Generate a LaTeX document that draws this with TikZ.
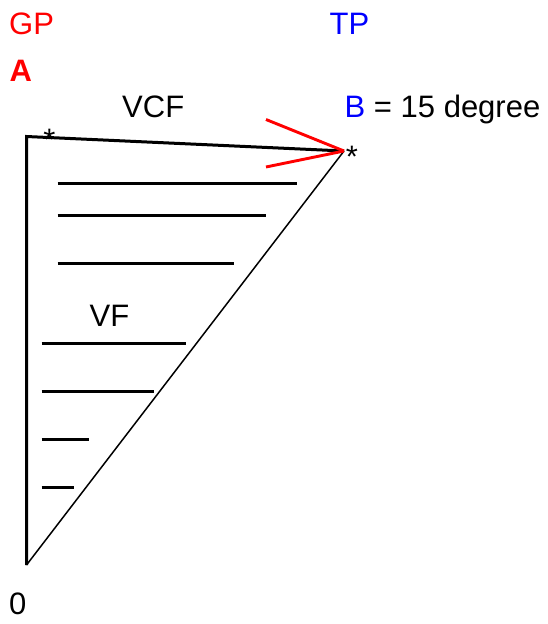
\documentclass[tikz,border=0pt]{standalone}
\usepackage{fontspec}
\setmainfont{Liberation Sans}
\begin{document}
\begin{tikzpicture}[x=1pt,y=-1pt,
  lbl/.style={inner sep=0pt,anchor=base west,font=\fontsize{31}{34}\selectfont},
  star/.style={inner sep=0pt,anchor=base,font=\fontsize{31}{34}\selectfont},
  thickln/.style={line width=3pt,black},
  thinln/.style={line width=1.5pt,black},
  redln/.style={line width=2.9pt,red},
  hline/.style={line width=3pt,black}]
\useasboundingbox (0,0) rectangle (547,624);
% triangle corners
\coordinate (tl) at (26.5,136.5);
\coordinate (apex) at (344,151);
\coordinate (bot) at (26.5,565);
\coordinate (r1) at (266,119.5);
\coordinate (r2) at (266,167);
% triangle
\draw[thickln,line join=miter] (bot) -- (tl) -- (apex);
\draw[thinln] (apex) -- (bot);
\draw[redln] (r1) -- (apex);
\draw[redln] (r2) -- (apex);
% horizontal lines
\coordinate (h1a) at (57.5,183.5); \coordinate (h1b) at (297.3,183.5);
\coordinate (h2a) at (57.5,215.5); \coordinate (h2b) at (266.3,215.5);
\coordinate (h3a) at (57.5,263.5); \coordinate (h3b) at (234,263.5);
\coordinate (h4a) at (41.7,343.5); \coordinate (h4b) at (186,343.5);
\coordinate (h5a) at (41.7,391.5); \coordinate (h5b) at (154,391.5);
\coordinate (h6a) at (41.7,439.5); \coordinate (h6b) at (89.3,439.5);
\coordinate (h7a) at (41.7,487.5); \coordinate (h7b) at (73.7,487.5);
\foreach \i in {1,...,7} {\draw[hline] (h\i a) -- (h\i b);}
% labels
\node[lbl,text=red] (gp) at (9,34) {GP};
\node[lbl,text=blue] (tp) at (329.5,34) {TP};
\node[lbl,text=red,font=\fontsize{31}{34}\selectfont\bfseries] (a) at (9.5,81.5) {A};
\node[lbl] (vcf) at (122,117.5) {VCF};
\node[lbl] (bdeg) at (344.5,117.7) {\textcolor{blue}{B} = 15 degree};
\node[lbl] (vf) at (89.5,326.5) {VF};
\node[lbl] (zero) at (9,614) {0};
\node[star] (s1) at (49.5,150) {*};
\node[star] (s2) at (352,167) {*};
\end{tikzpicture}
\end{document}
